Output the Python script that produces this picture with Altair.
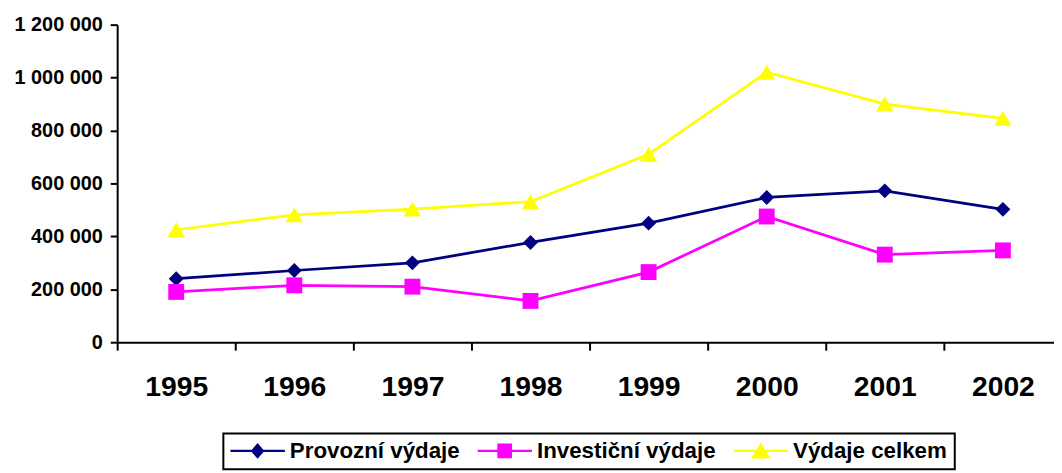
import altair as alt
import pandas as pd

years = ["1995", "1996", "1997", "1998", "1999", "2000", "2001", "2002"]
provozni = [240000, 271000, 300000, 377000, 450000, 547000, 572000, 502000]
investicni = [190000, 215000, 210000, 156000, 265000, 475000, 331000, 347000]
celkem = [425000, 481000, 503000, 531000, 710000, 1020000, 900000, 846000]
series_names = ["Provozní výdaje", "Investiční výdaje", "Výdaje celkem"]
series_colors = ["#000080", "#FF00FF", "#FFFF00"]
y_ticks = [0, 200000, 400000, 600000, 800000, 1000000, 1200000]

marker_shapes = ["diamond", "square", "triangle-up"]
marker_sizes = [225, 256, 300]
legend_paths = [
    "M-1,-0.045H1V0.045H-1Z M0,-0.29L0.25,0L0,0.29L-0.25,0Z",
    "M-1,-0.045H1V0.045H-1Z M-0.27,-0.27H0.27V0.27H-0.27Z",
    "M-1,-0.045H1V0.045H-1Z M0,-0.3L0.36,0.28L-0.36,0.28Z",
]

rows = []
for name, vals in zip(series_names, [provozni, investicni, celkem]):
    for yr, v in zip(years, vals):
        rows.append({"year": yr, "series": name, "value": v})
df = pd.DataFrame(rows)

FONT = "Liberation Sans"

x_enc = alt.X(
    "year:N",
    sort=years,
    scale=alt.Scale(type="band", domain=years, range=[0, 952], paddingInner=0, paddingOuter=0),
    axis=alt.Axis(
        title=None,
        tickBand="extent",
        labelAngle=0,
        labelFont=FONT,
        labelFontSize=28.5,
        labelFontWeight="bold",
        labelColor="black",
        labelPadding=23,
        tickSize=8,
        tickWidth=2,
        tickColor="black",
        domainColor="black",
        domainWidth=2,
        grid=False,
    ),
)
y_enc = alt.Y(
    "value:Q",
    scale=alt.Scale(domain=[0, 1200000], nice=False, zero=True),
    axis=alt.Axis(
        title=None,
        values=y_ticks,
        labelExpr="replace(replace(format(datum.value, ','), ',', ' '), ',', ' ')",
        labelFont=FONT,
        labelFontSize=20,
        labelFontWeight="bold",
        labelColor="black",
        labelPadding=8,
        tickSize=7,
        tickWidth=2,
        tickColor="black",
        domainColor="black",
        domainWidth=2,
        grid=False,
    ),
)
color_scale = alt.Scale(domain=series_names, range=series_colors)

base = alt.Chart(df)

layers = []
for name, col in zip(series_names, series_colors):
    layers.append(
        base.transform_filter(alt.datum.series == name)
        .mark_line(strokeWidth=2.75, color=col)
        .encode(x=x_enc, y=y_enc)
    )
for name, col, shp, sz in zip(series_names, series_colors, marker_shapes, marker_sizes):
    layers.append(
        base.transform_filter(alt.datum.series == name)
        .mark_point(filled=True, opacity=1, shape=shp, size=sz, strokeWidth=0, color=col)
        .encode(x=x_enc, y=y_enc)
    )

legend_def = alt.Legend(
    title=None,
    orient="none",
    legendX=107,
    legendY=412,
    direction="horizontal",
    labelFont=FONT,
    labelFontSize=22.5,
    labelFontWeight="bold",
    labelColor="black",
    labelLimit=400,
    labelExpr="datum.index == 2 ? datum.label + '\u00a0\u00a0' : datum.label",
    symbolSize=3025,
    clipHeight=21,
    padding=7,
    labelOffset=5,
    columnPadding=17,
    strokeColor="black",
    symbolStrokeWidth=0,
    symbolOpacity=1,
)

legend_layer = base.mark_point(filled=True, opacity=0, strokeWidth=0).encode(
    x=x_enc,
    y=y_enc,
    color=alt.Color("series:N", scale=color_scale, legend=legend_def),
    shape=alt.Shape(
        "series:N",
        scale=alt.Scale(domain=series_names, range=legend_paths),
        legend=legend_def,
    ),
)
layers.append(legend_layer)

chart = alt.layer(*layers).properties(
    width=944,
    height=320,
    autosize=alt.AutoSizeParams(type="none"),
    padding={"left": 110, "top": 15, "right": 0, "bottom": 129},
    background="white",
).configure_view(stroke=None)

try:
    chart2 = chart.configure_legend(strokeWidth=2)
    chart2.to_dict()
    chart = chart2
except Exception:
    pass

chart.save("out.html", embed_options={"renderer": "svg", "actions": False})
